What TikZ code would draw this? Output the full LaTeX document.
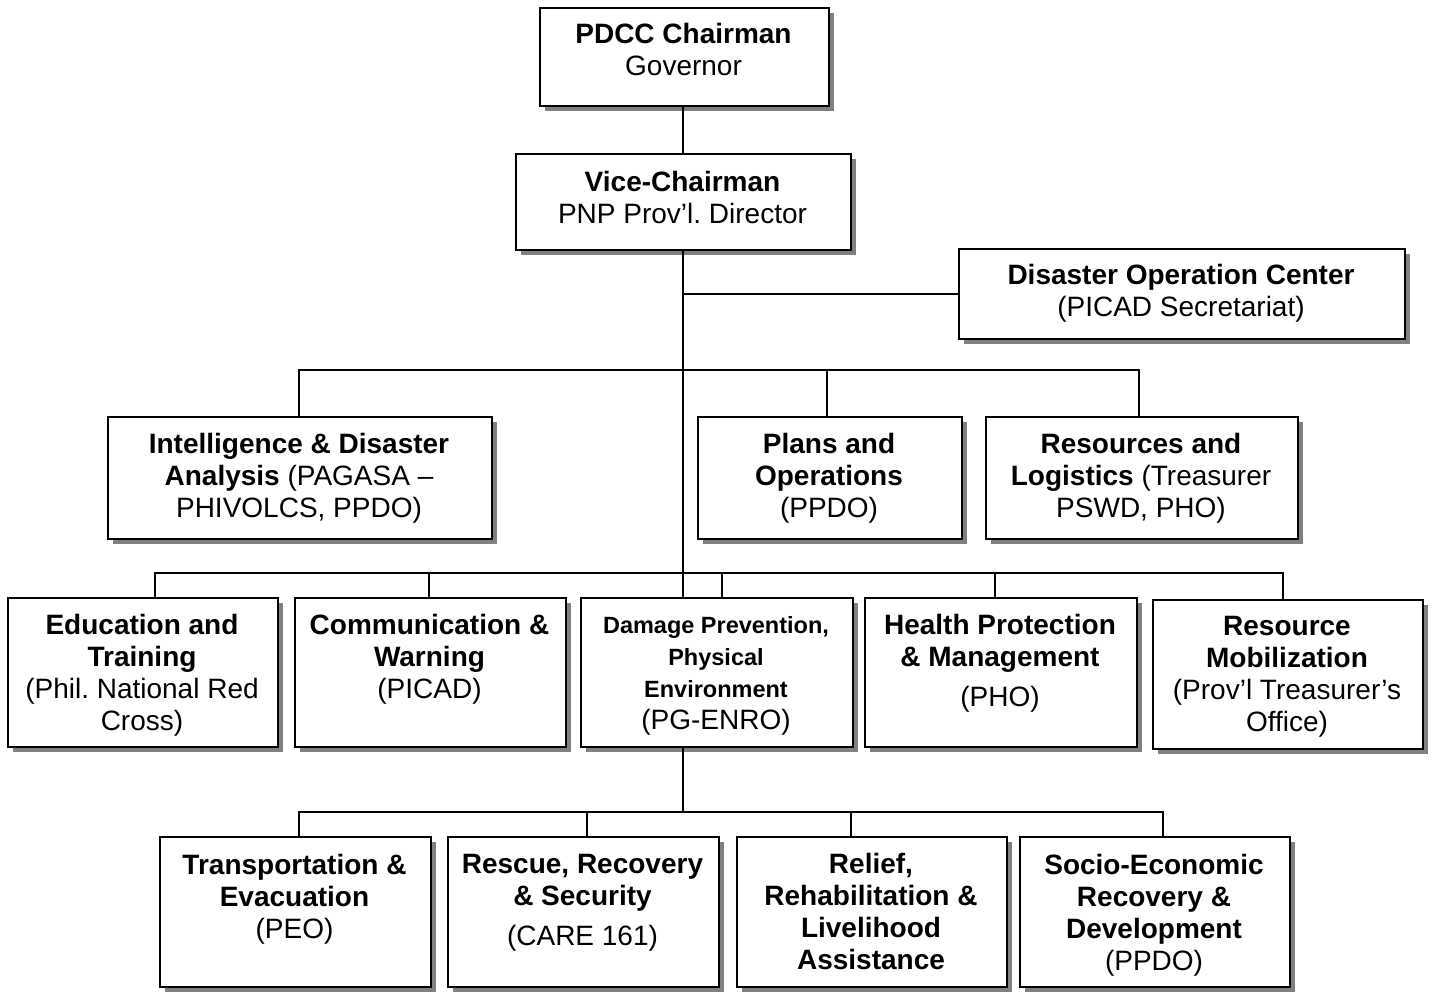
\documentclass[tikz,border=0pt]{standalone}
\usepackage{fontspec}
\setmainfont{Liberation Sans}
\usetikzlibrary{shadows}
\frenchspacing
\newcommand\mainfs{\fontsize{28}{32}\selectfont}
\newcommand\smallfs{\fontsize{23.5}{32}\selectfont}
\begin{document}
\begin{tikzpicture}[x=1pt,y=-1pt,
  box/.style={draw, line width=1.8pt, fill=white, inner sep=0pt, anchor=north west,
    drop shadow={shadow xshift=5.5pt, shadow yshift=-5.5pt, fill=black!50, opacity=1}},
  txt/.style={align=center, inner sep=0pt, font=\mainfs\frenchspacing},
  link/.style={line width=1.8pt}]
\useasboundingbox (0,0) rectangle (1435,992);
% top
\node[box, minimum width=289pt, minimum height=98pt] (pdcc) at (539,7) {};
\node[txt] (pdcct) at (683.5,49) {\textbf{PDCC Chairman}\\Governor};
\node[box, minimum width=335pt, minimum height=96pt] (vice) at (515,153) {};
\node[txt] (vicet) at (682.5,197) {\textbf{Vice-Chairman}\\PNP Prov’l. Director};
\node[box, minimum width=446pt, minimum height=90pt] (doc) at (958,248) {};
\node[txt] (doct) at (1181,293) {\textbf{Disaster Operation Center}\\(PICAD Secretariat)};
% row 2
\node[box, minimum width=384pt, minimum height=122pt] (intel) at (107,416) {};
\node[txt] (intelt) at (299,478) {\textbf{Intelligence \& Disaster}\\\textbf{Analysis} (PAGASA –\\PHIVOLCS, PPDO)};
\node[box, minimum width=264pt, minimum height=122pt] (plans) at (697,416) {};
\node[txt] (planst) at (829,478) {\textbf{Plans and}\\\textbf{Operations}\\(PPDO)};
\node[box, minimum width=312pt, minimum height=122pt] (reslog) at (985,416) {};
\node[txt] (reslogt) at (1141,478) {\textbf{Resources and}\\\textbf{Logistics} (Treasurer\\PSWD, PHO)};
% row 3
\node[box, minimum width=270pt, minimum height=149pt] (edu) at (7,597) {};
\node[txt] (edut) at (142,675) {\textbf{Education and}\\\textbf{Training}\\(Phil. National Red\\Cross)};
\node[box, minimum width=271pt, minimum height=149pt] (comm) at (294,597) {};
\node[txt] (commt) at (429.5,659) {\textbf{Communication \&}\\\textbf{Warning}\\(PICAD)};
\node[box, minimum width=272pt, minimum height=149pt] (dmg) at (580,597) {};
\node[txt] (dmgt) at (716,676) {\smallfs\textbf{Damage Prevention,}\\\smallfs\textbf{Physical}\\\smallfs\textbf{Environment}\\\mainfs(PG-ENRO)};
\node[box, minimum width=272pt, minimum height=149pt] (health) at (864,597) {};
\node[txt] (healtht) at (1000,663) {\textbf{Health Protection}\\\textbf{\& Management}\\[8pt](PHO)};
\node[box, minimum width=270pt, minimum height=149pt] (resmob) at (1152,599) {};
\node[txt] (resmobt) at (1287,677) {\textbf{Resource}\\\textbf{Mobilization}\\(Prov’l Treasurer’s\\Office)};
% row 4
\node[box, minimum width=271pt, minimum height=150pt] (trans) at (159,836) {};
\node[txt] (transt) at (294.5,899) {\textbf{Transportation \&}\\\textbf{Evacuation}\\(PEO)};
\node[box, minimum width=271pt, minimum height=150pt] (rescue) at (447,836) {};
\node[txt] (rescuet) at (582.5,903) {\textbf{Rescue, Recovery}\\\textbf{\& Security}\\[8pt](CARE 161)};
\node[box, minimum width=270pt, minimum height=150pt] (relief) at (736,836) {};
\node[txt] (relieft) at (871,911) {\textbf{Relief,}\\\textbf{Rehabilitation \&}\\\textbf{Livelihood}\\\textbf{Assistance}};
\node[box, minimum width=270pt, minimum height=150pt] (socio) at (1019,836) {};
\node[txt] (sociot) at (1154,915) {\textbf{Socio-Economic}\\\textbf{Recovery \&}\\\textbf{Development}\\(PPDO)};
% connectors
\coordinate (trunk) at (683,0);
\draw[link] (pdcc.south -| trunk) -- (vice.north -| trunk);
\draw[link] (vice.south -| trunk) -- (dmg.north -| trunk);
\draw[link] (doc.west -| trunk) -- (doc.west);
% row 2 bus
\coordinate (b2a) at (299,370);
\coordinate (b2b) at (827,370);
\coordinate (b2c) at (1139,370);
\draw[link] (b2a |- intel.north) -- (b2a) -- (b2c) -- (b2c |- reslog.north);
\draw[link] (b2b) -- (b2b |- plans.north);
% row 3 bus
\coordinate (b3a) at (155,573);
\coordinate (b3b) at (429,573);
\coordinate (b3c) at (722,573);
\coordinate (b3d) at (995,573);
\coordinate (b3e) at (1283,573);
\draw[link] (b3a |- edu.north) -- (b3a) -- (b3e) -- (b3e |- resmob.north);
\draw[link] (b3b) -- (b3b |- comm.north);
\draw[link] (b3c) -- (b3c |- dmg.north);
\draw[link] (b3d) -- (b3d |- health.north);
% row 4 bus
\coordinate (b4) at (683,812);
\coordinate (b4a) at (299,812);
\coordinate (b4b) at (587,812);
\coordinate (b4c) at (851,812);
\coordinate (b4d) at (1163,812);
\draw[link] (b4 |- dmg.south) -- (b4);
\draw[link] (b4a |- trans.north) -- (b4a) -- (b4d) -- (b4d |- socio.north);
\draw[link] (b4b) -- (b4b |- rescue.north);
\draw[link] (b4c) -- (b4c |- relief.north);
\end{tikzpicture}
\end{document}
